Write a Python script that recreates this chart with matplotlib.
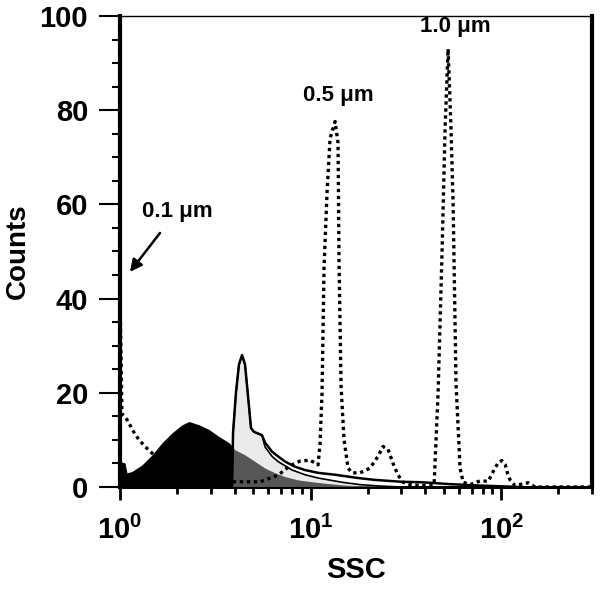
import matplotlib
matplotlib.use('Agg')
import matplotlib.pyplot as plt
from matplotlib.ticker import FixedLocator, NullFormatter

plt.rcParams['font.family'] = ['Liberation Sans', 'DejaVu Sans']
plt.rcParams['font.weight'] = 'bold'
plt.rcParams['mathtext.fontset'] = 'custom'
plt.rcParams['mathtext.bf'] = 'Liberation Sans:bold'
plt.rcParams['mathtext.rm'] = 'Liberation Sans:bold'

# black filled histogram
black_ssc = [1.0, 1.062, 1.088, 1.156, 1.305, 1.472, 1.662, 1.875, 2.116, 2.303, 2.598, 2.932, 3.311,
             3.734, 4.015, 4.53, 5.11, 5.77, 6.51, 7.35, 8.60, 10.2, 11.9, 15.2, 20.5, 30.0]
black_cnt = [5.4, 5.1, 3.0, 3.3, 4.7, 6.8, 9.4, 11.5, 13.2, 13.9, 13.2, 12.2, 10.7,
             9.4, 7.9, 6.8, 5.4, 4.0, 3.0, 2.2, 1.5, 1.1, 0.8, 0.4, 0.1, 0.0]

# light grey filled histogram
light_ssc = [3.87, 3.92, 4.06, 4.21, 4.37, 4.53, 4.69, 4.87, 5.05, 5.56, 5.77, 6.28, 6.75, 8.00,
             9.35, 10.95, 14.63, 18.2, 23.2, 29.5]
light_cnt = [0, 11.5, 20, 26, 28, 26, 19.6, 12.5, 11.7, 11.0, 8.5, 6.5, 5.4, 3.6,
             2.6, 1.9, 1.0, 0.5, 0.2, 0]

# open solid histogram
line_ssc = [3.87, 3.92, 4.06, 4.21, 4.37, 4.53, 4.69, 4.87, 5.05, 5.56, 5.77, 6.28, 6.75, 7.35,
            8.29, 9.35, 10.95, 13.45, 17.76, 21.8, 30.2, 38.5, 54.0, 77.6, 125.8]
line_cnt = [0, 11.5, 20, 26, 28, 26, 19.6, 12.5, 11.7, 11.0, 9.4, 7.5, 6.5, 5.4,
            4.3, 3.6, 3.0, 2.6, 1.9, 1.5, 1.1, 1.0, 0.6, 0.3, 0]

# bead mix (dotted)
bead_ssc = [1.00, 1.024, 1.088, 1.184, 1.258, 1.353, 1.472, 1.622, 1.944, 2.63,
            3.87, 5.43, 6.75, 7.80, 8.81, 9.94, 10.95, 11.21, 11.49, 11.77,
            12.21, 12.66, 13.45, 13.94, 14.11, 14.46, 14.99, 15.74, 16.51, 18.2,
            20.5, 22.6, 24.0, 25.5, 27.1, 28.8, 30.6, 33.3, 37.6, 44.5,
            46.7, 49.0, 50.8, 52.7, 54.6, 56.0, 58.0, 60.9, 63.2, 68.8,
            77.6, 85.5, 89.4, 93.1, 96.8, 100.9, 105.0, 107.9, 111.5, 118.4,
            138.6, 150.7, 300]
bead_cnt = [41, 15.5, 14.3, 11.6, 10, 8.6, 7.2, 5.5, 3, 1.5,
            1.1, 1.1, 2.5, 4.5, 5.5, 5.7, 4.7, 9, 20, 46.6,
            62.7, 74, 77.6, 73, 47.6, 21.3, 10, 4, 3, 3,
            4, 6.5, 8.6, 8, 5, 2.5, 1, 0.5, 0.3, 0.5,
            20, 50, 76, 93, 76, 60, 22, 4, 1, 0.5,
            1.3, 1.2, 2.7, 4.1, 5.2, 5.6, 4.8, 3, 1.5, 0.3,
            0.9, 0, 0]

fig = plt.figure(figsize=(6, 5.92), dpi=100)
ax = fig.add_axes([0.2, 0.1774, 0.7867, 0.7956])

ax.fill_between(black_ssc, black_cnt, 0, color='black', linewidth=0, zorder=2)
ax.fill_between(light_ssc, light_cnt, 0, facecolor='#cfcfcf', alpha=0.42, linewidth=0, zorder=3)
ax.plot(light_ssc, light_cnt, color='black', linewidth=1.2, zorder=4)
ax.plot(line_ssc, line_cnt, color='black', linewidth=1.8, zorder=4)
ax.plot(bead_ssc, bead_cnt, color='black', linewidth=2.4, linestyle=(0, (1, 1.1)), zorder=5, clip_on=False)

ax.set_xscale('log')
ax.set_xlim(1, 300)
ax.set_ylim(0, 100)

ax.set_xticks([1, 10, 100], labels=[r'$\mathbf{10^0}$', r'$\mathbf{10^1}$', r'$\mathbf{10^2}$'])
ax.xaxis.set_minor_locator(FixedLocator([2, 3, 4, 5, 6, 7, 8, 9, 20, 30, 40, 50, 60, 70, 80, 90, 200, 300]))
ax.xaxis.set_minor_formatter(NullFormatter())
ax.set_yticks([0, 20, 40, 60, 80, 100])
ax.yaxis.set_minor_locator(FixedLocator([5, 10, 15, 25, 30, 35, 45, 50, 55, 65, 70, 75, 85, 90, 95]))

ax.tick_params(axis='x', which='major', length=9, width=2, labelsize=21, pad=12)
ax.tick_params(axis='x', which='minor', length=5, width=2)
ax.tick_params(axis='y', which='major', length=15, width=1.5, labelsize=21, pad=8)
ax.tick_params(axis='y', which='minor', length=6, width=1.5)

ax.spines['left'].set_linewidth(3)
ax.spines['bottom'].set_linewidth(2.2)
ax.spines['right'].set_linewidth(3)
ax.spines['top'].set_linewidth(1)

ax.set_xlabel('SSC', fontsize=21, fontweight='bold', labelpad=8)
ax.set_ylabel('Counts', fontsize=20, fontweight='bold', labelpad=6)

ax.text(1.99, 58.4, '0.1 μm', fontsize=16, fontweight='bold', ha='center', va='center')
ax.annotate('', xy=(1.105, 45.2), xytext=(1.655, 54.4),
            arrowprops=dict(arrowstyle='-|>', color='black', lw=1.8, mutation_scale=18))
ax.text(13.94, 83.2, '0.5 μm', fontsize=16, fontweight='bold', ha='center', va='center')
ax.text(57.4, 97.7, '1.0 μm', fontsize=16, fontweight='bold', ha='center', va='center')

plt.savefig('out.png', dpi=100)
